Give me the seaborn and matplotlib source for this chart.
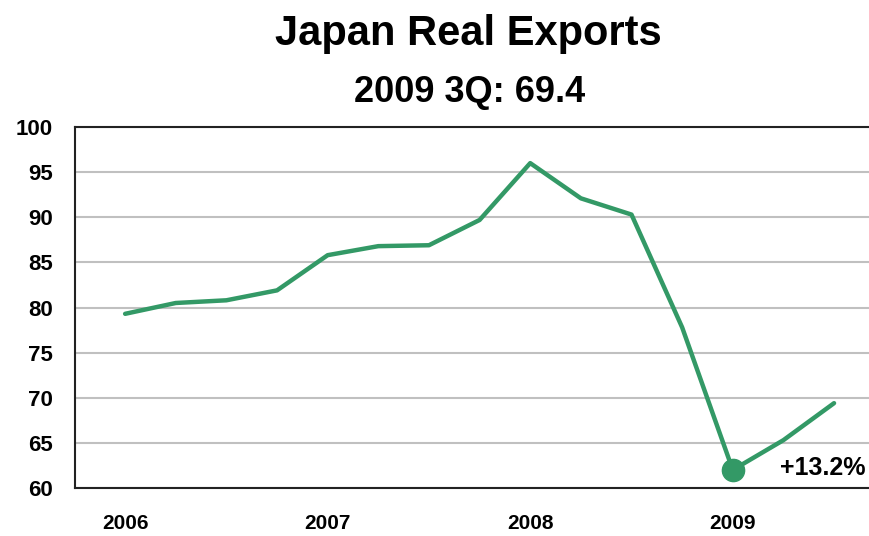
import matplotlib
matplotlib.use("Agg")
import matplotlib.pyplot as plt
import seaborn as sns
import pandas as pd

# quarterly real exports index, 2006Q1 - 2009Q3
quarters = ["2006Q1", "2006Q2", "2006Q3", "2006Q4",
            "2007Q1", "2007Q2", "2007Q3", "2007Q4",
            "2008Q1", "2008Q2", "2008Q3", "2008Q4",
            "2009Q1", "2009Q2", "2009Q3"]
exports = [79.3, 80.5, 80.8, 81.9,
           85.8, 86.8, 86.9, 89.7,
           96.0, 92.1, 90.3, 77.8,
           62.0, 65.3, 69.4]
year_labels = ["2006", "2007", "2008", "2009"]
y_ticks = [60, 65, 70, 75, 80, 85, 90, 95, 100]

df = pd.DataFrame({"quarter": quarters, "exports": exports})
df["pos"] = range(len(df))
low = df["exports"].idxmin()

green = "#339966"

sns.set_style("white")
plt.rcParams["font.family"] = ["Liberation Sans", "DejaVu Sans"]
plt.rcParams["text.color"] = "black"
plt.rcParams["xtick.color"] = "black"
plt.rcParams["ytick.color"] = "black"

fig = plt.figure(figsize=(8.7, 5.36), dpi=100)
ax = fig.add_axes([0.0862, 0.0896, 0.9138, 0.6734])

ax.yaxis.grid(True, color="#c0c0c0", linewidth=1.5)
ax.set_axisbelow(True)
sns.lineplot(data=df, x="pos", y="exports", color=green, linewidth=3.2, ax=ax)
ax.plot(df.loc[low, "pos"], df.loc[low, "exports"], "o", color=green,
        markersize=16, zorder=5)
ax.text(df.loc[low, "pos"] + 0.93, df.loc[low, "exports"] + 0.2, "+13.2%",
        fontsize=18, fontweight="bold", ha="left", va="center")

ax.set_xlim(-0.99, 14.71)
ax.set_ylim(60, 100)
ax.set_yticks(y_ticks)
ax.set_xticks(df["pos"][::4])
ax.set_xticklabels(year_labels, fontsize=15, fontweight="bold")
ax.tick_params(axis="y", labelsize=16, length=0, pad=16)
ax.tick_params(axis="x", length=0, pad=19)
for t in ax.get_yticklabels():
    t.set_fontweight("bold")
ax.set_xlabel("")
ax.set_ylabel("")

for s in ["left", "bottom", "top"]:
    ax.spines[s].set_visible(True)
    ax.spines[s].set_color("#222222")
    ax.spines[s].set_linewidth(1.5)
ax.spines["right"].set_visible(False)

fig.text(0.538, 0.916, "Japan Real Exports", fontsize=30, fontweight="bold",
         ha="center", va="baseline")
fig.text(0.54, 0.81, "2009 3Q: 69.4", fontsize=26, fontweight="bold",
         ha="center", va="baseline")

fig.savefig("out.png", dpi=100)
